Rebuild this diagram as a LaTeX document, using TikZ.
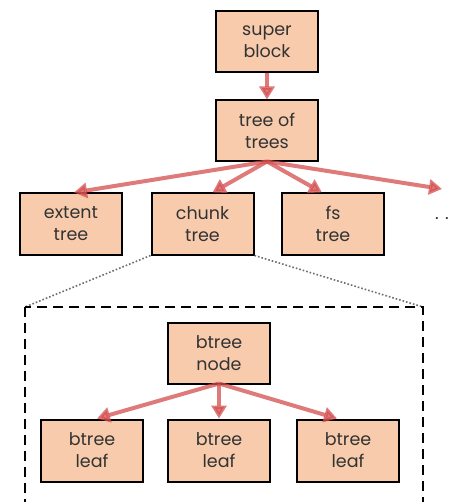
\documentclass[tikz,border=0pt]{standalone}
\usepackage{fontspec}
\setmainfont{Poppins}
\usetikzlibrary{arrows.meta}
\definecolor{boxfill}{RGB}{247,203,172}
\definecolor{arrowred}{RGB}{212,78,78}
\definecolor{dotgray}{RGB}{110,110,110}
\tikzset{
  box/.style={draw=black, line width=2pt, fill=boxfill, minimum width=102pt, minimum height=61pt, inner sep=0pt, align=center, font=\fontsize{17.5}{22}\selectfont, text=black!80},
  redarrow/.style={draw=arrowred, draw opacity=0.75, fill opacity=0.75, line width=4pt, -{Triangle[length=13pt,width=15pt]}},
  zoomline/.style={draw=dotgray, line width=1.6pt, dotted},
  dashbox/.style={draw=black, line width=2.2pt, dash pattern=on 10pt off 6pt}
}
\begin{document}
\begin{tikzpicture}[x=1pt,y=-1pt]
\useasboundingbox (0,0) rectangle (452,502);
\node[box] (super) at (267,41.5) {super\\block};
\node[box] (tot) at (267,131) {tree of\\trees};
\node[box] (extent) at (71,224) {extent\\tree};
\node[box] (chunk) at (202.5,224) {chunk\\tree};
\node[box] (fs) at (333,224) {fs\\tree};
\node[font=\fontsize{17.5}{22}\selectfont, anchor=west, inner sep=0pt, text=black!80] (dots) at (435,218.5) {. .};
\coordinate (more) at (442,189);
\coordinate (dl) at (25,307);
\coordinate (dr) at (423,307);
\coordinate (dbot) at (423,520);
\node[box] (bnode) at (219,353) {btree\\node};
\node[box, minimum height=62pt] (leafa) at (92,450.5) {btree\\leaf};
\node[box, minimum height=62pt] (leafb) at (219,450.5) {btree\\leaf};
\node[box, minimum height=62pt] (leafc) at (348,450.5) {btree\\leaf};
% connectors
\draw[redarrow] (super.south) -- (tot.north);
\draw[redarrow] ([yshift=1pt]tot.south) -- ([xshift=3pt]extent.north);
\draw[redarrow] ([yshift=1pt]tot.south) -- ([xshift=10pt]chunk.north);
\draw[redarrow] ([yshift=1pt]tot.south) -- ([xshift=-11pt]fs.north);
\draw[redarrow] ([yshift=1pt]tot.south) -- (more);
\draw[redarrow] ([yshift=1pt]bnode.south) -- ([xshift=5pt]leafa.north);
\draw[redarrow] ([yshift=1pt]bnode.south) -- (leafb.north);
\draw[redarrow] ([yshift=1pt]bnode.south) -- ([xshift=-11pt]leafc.north);
% zoom lines and dashed box
\draw[zoomline] (chunk.south west) -- (dl);
\draw[zoomline] (chunk.south east) -- (dr);
\draw[dashbox] (dl) rectangle (dbot);
\end{tikzpicture}
\end{document}
